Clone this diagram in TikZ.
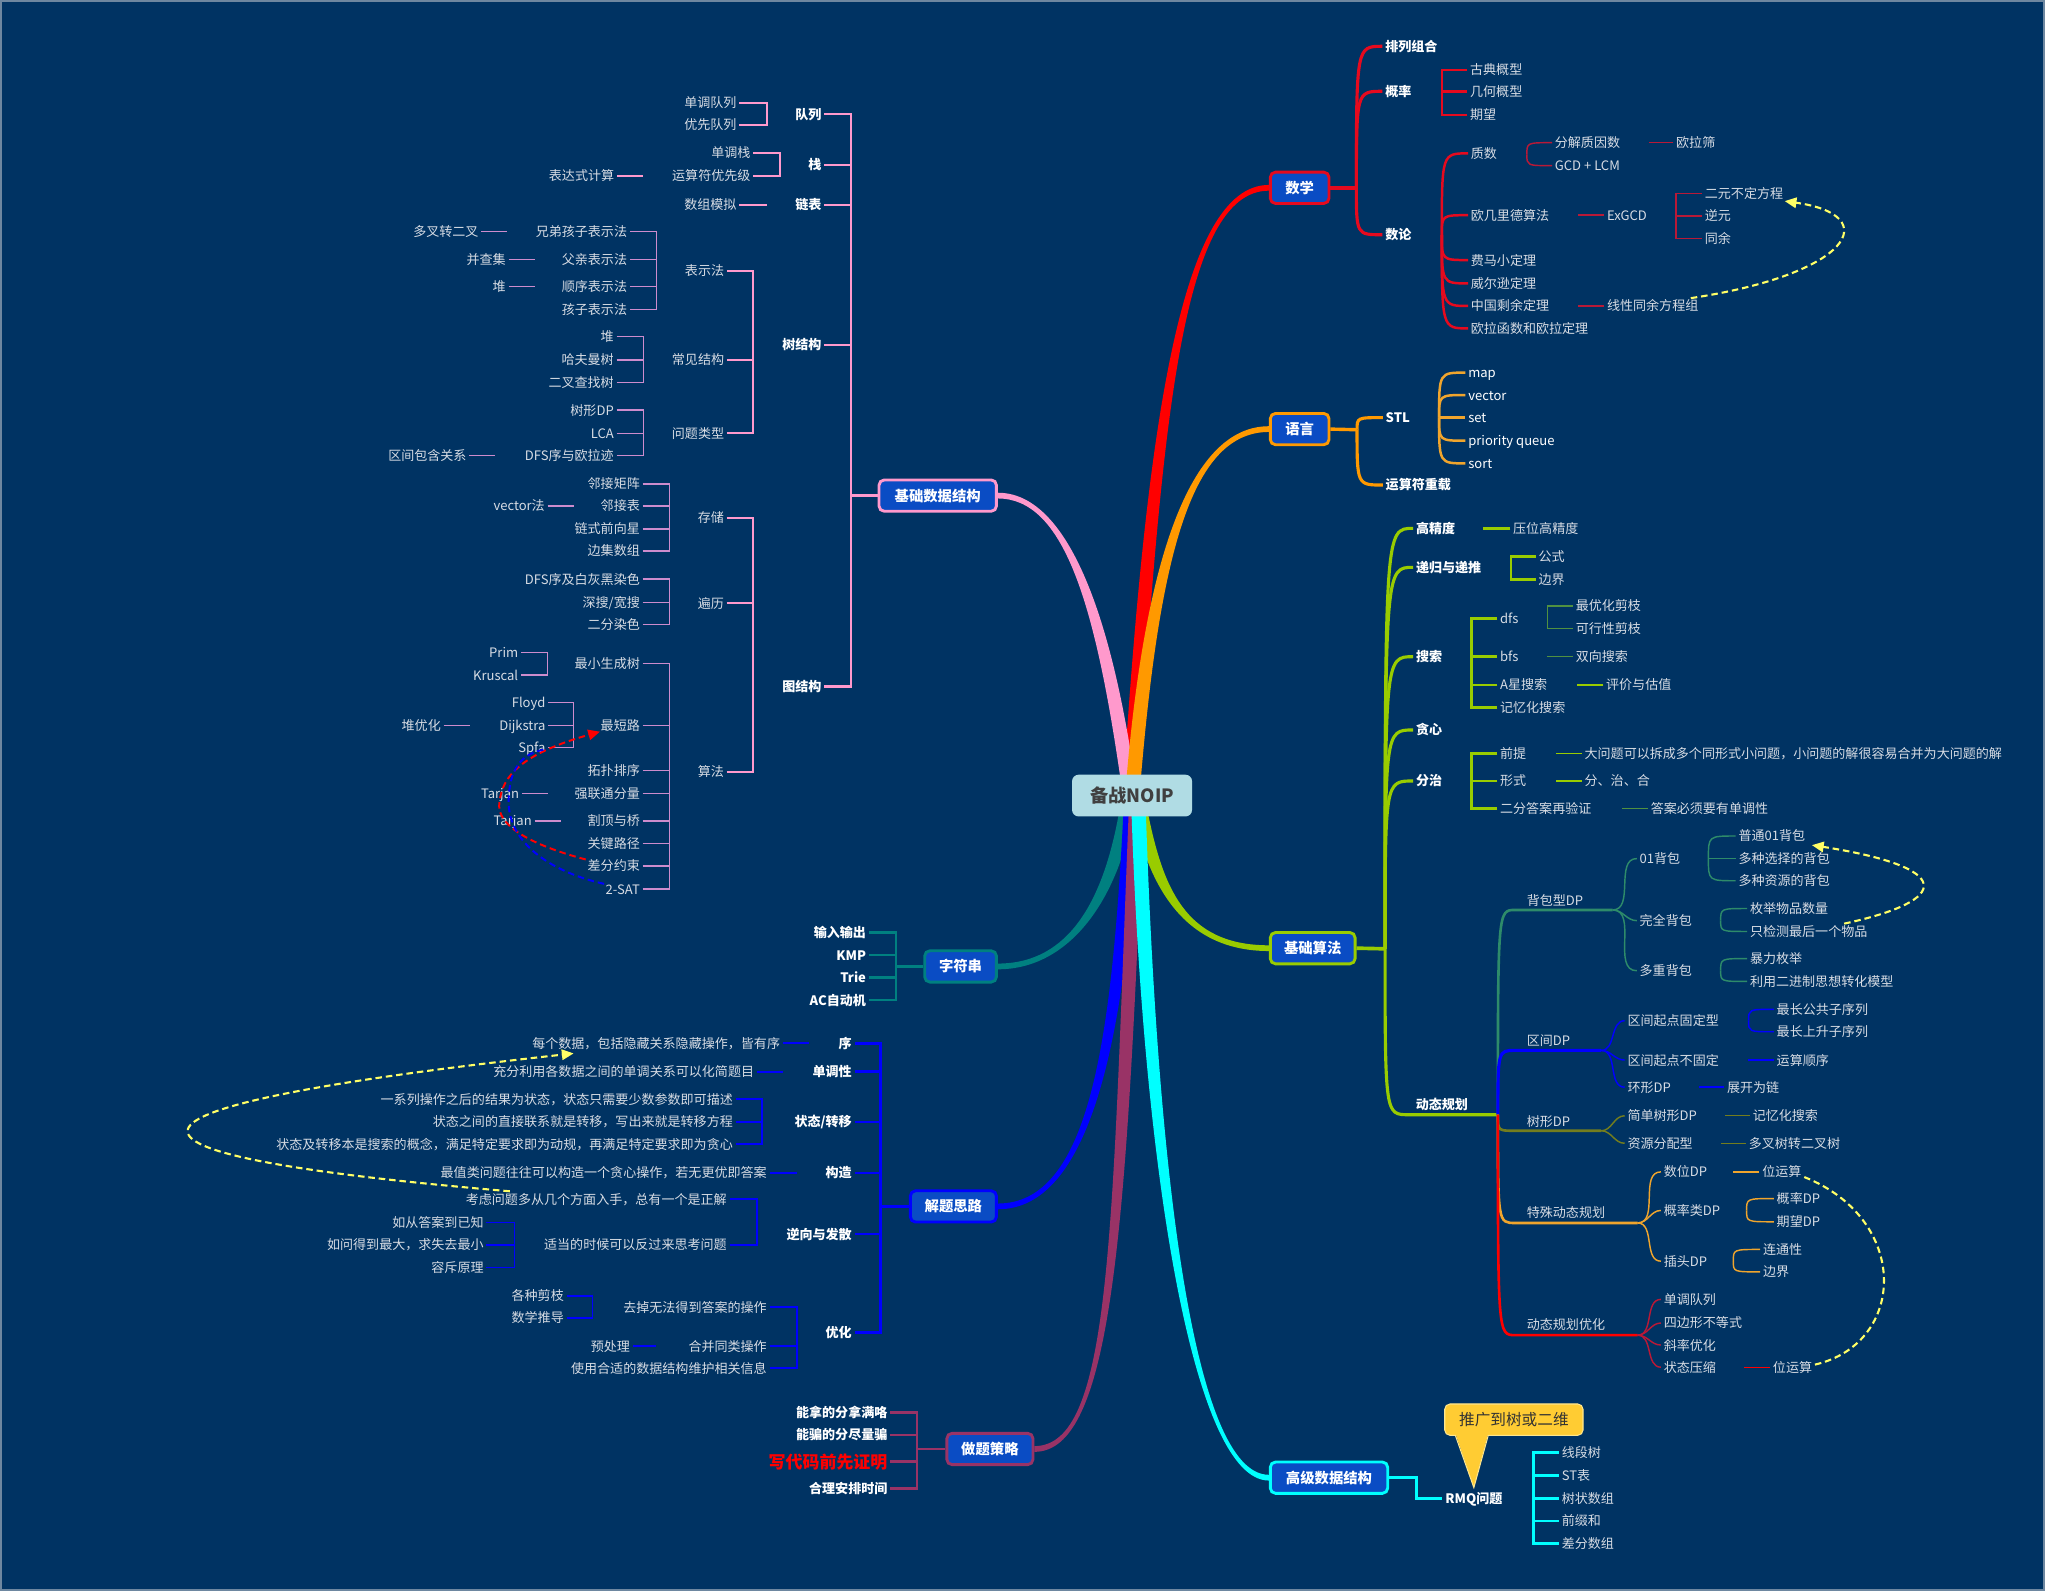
\documentclass[tikz,border=0pt]{standalone}
\usepackage{fontspec}
\setmainfont{Noto Sans CJK SC}
\usetikzlibrary{arrows.meta,calc}
\definecolor{bgc}{RGB}{0,51,99}
\definecolor{boxc}{RGB}{10,76,196}
\definecolor{leafc}{RGB}{215,220,228}
\definecolor{cred}{RGB}{255,0,0}
\definecolor{cred2}{RGB}{230,10,30}
\definecolor{cred3}{RGB}{185,25,55}
\definecolor{corg}{RGB}{255,153,0}
\definecolor{corg2}{RGB}{240,165,45}
\definecolor{cpink}{RGB}{255,153,204}
\definecolor{cpink2}{RGB}{205,140,205}
\definecolor{cgrn}{RGB}{153,204,0}
\definecolor{cgrn2}{RGB}{80,145,65}
\definecolor{cteal}{RGB}{0,128,128}
\definecolor{cblue}{RGB}{0,0,255}
\definecolor{cmar}{RGB}{153,51,102}
\definecolor{ccyan}{RGB}{0,255,255}
\definecolor{cdpg}{RGB}{46,139,106}
\definecolor{colive}{RGB}{115,125,30}
\definecolor{cyel}{RGB}{255,255,102}
\definecolor{ccall}{RGB}{255,204,51}
\definecolor{ccallb}{RGB}{255,230,140}
\definecolor{centc}{RGB}{176,220,228}
\definecolor{framec}{RGB}{110,135,160}
\newcommand\fsz[1]{\fontsize{#1}{#1}\selectfont}
\newcommand\mmLB[4]{\coordinate (BX) at (#2,0);\foreach \ch in {#4}{\draw[#1] ([xshift=2pt]\ch.east) -- (\ch.east -| BX) -- (#3.west -| BX);}}
\newcommand\mmRB[4]{\coordinate (BX) at (#2,0);\foreach \ch in {#4}{\draw[#1] ([xshift=-2pt]\ch.west) -- (\ch.west -| BX) -- (#3.east -| BX);}}
\newcommand\mmFR[3]{\foreach \ch in {#3}{\draw[#1] (#2) .. controls (#2 |- \ch.west) .. ([xshift=-2pt]\ch.west);}}
\newcommand\mmSR[3]{\foreach \ch in {#3}{\draw[#1] (#2) to[out=0,in=180] ([xshift=-2pt]\ch.west);}}
\newcommand\mmLL[3]{\draw[#1] ([xshift=2pt]#2.east) -- ++(#3,0);}
\newcommand\mmRL[3]{\draw[#1] ([xshift=-2pt]#2.west) -- ++(-#3,0);}
\pgfdeclarelayer{back}
\pgfdeclarelayer{mid}
\pgfsetlayers{back,mid,main}
\tikzset{
 lf/.style={inner sep=0pt, text=leafc, font=\fsz{10}, text height=8.8pt, text depth=1.2pt},
 bd/.style={inner sep=0pt, text=white, font=\fsz{10}\bfseries, text height=8.8pt, text depth=1.2pt},
 lfr/.style={lf,anchor=west}, lfl/.style={lf,anchor=east},
 bdr/.style={bd,anchor=west}, bdl/.style={bd,anchor=east},
 topbox/.style={rounded corners=4pt, fill=boxc, line width=2.2pt, text=white, font=\fsz{11}\bfseries, minimum height=24pt, inner sep=0pt},
 ln2/.style={line width=1.9pt}, ln3/.style={line width=1.5pt}, ln4/.style={line width=1.1pt},
 yarc/.style={cyel, line width=1.6pt, dash pattern=on 5pt off 3pt},
 tipa/.style={-{Triangle[length=9pt,width=8pt]}},
}
\begin{document}
\begin{tikzpicture}[x=1pt,y=-1pt]
\useasboundingbox (0,0) rectangle (1568,1220);
\begin{pgfonlayer}{back}
\fill[bgc] (0,0) rectangle (1568,1220);
\draw[framec,line width=1.5pt] (0.75,0.75) rectangle (1567.25,1219.25);
\end{pgfonlayer}

% ---------- root and main boxes ----------
\node[fill=centc, rounded corners=5pt, minimum width=92pt, minimum height=32pt, inner sep=0pt, text=black!75, font=\fsz{14}\bfseries] (root) at (868,610) {备战NOIP};
\coordinate (htop) at ([yshift=-6pt]root.north);
\coordinate (hbot) at ([yshift=6pt]root.south);
\node[topbox, draw=cred2, minimum width=45pt] (math) at (996.5,144) {数学};
\node[topbox, draw=corg, minimum width=45pt] (lang) at (996.5,329) {语言};
\node[topbox, draw=cpink, minimum width=90pt] (ds) at (719,380) {基础数据结构};
\node[topbox, draw=cgrn, minimum width=65pt] (alg) at (1006.5,727) {基础算法};
\node[topbox, draw=cteal, minimum width=55pt] (str) at (736.5,741) {字符串};
\node[topbox, draw=cblue, minimum width=66pt] (think) at (731,925) {解题思路};
\node[topbox, draw=cmar, minimum width=66pt] (strat) at (759,1111) {做题策略};
\node[topbox, draw=ccyan, minimum width=90pt] (adv) at (1019,1133) {高级数据结构};

\begin{pgfonlayer}{mid}
\fill[cred] ([xshift=-6.5pt]htop) .. controls (879,330) and (905,141.8) .. ([yshift=2.2pt]math.west) -- ([yshift=-2.2pt]math.west) .. controls (905,146.2) and (891,330) .. ([xshift=4.5pt]htop) -- cycle;
\fill[cpink] ([xshift=-8.5pt]htop) .. controls (839.5,460) and (815,382.2) .. ([yshift=-2.2pt]ds.east) -- ([yshift=2.2pt]ds.east) .. controls (815,377.8) and (850.5,460) .. ([xshift=2.5pt]htop) -- cycle;
\fill[corg] ([xshift=-4.5pt]htop) .. controls (878.5,420) and (915,326.8) .. ([yshift=2.2pt]lang.west) -- ([yshift=-2.2pt]lang.west) .. controls (915,331.2) and (889.5,420) .. ([xshift=6.5pt]htop) -- cycle;
\fill[cgrn] ([xshift=11.5pt]hbot) .. controls (891.5,680) and (908,724.8) .. ([yshift=2.2pt]alg.west) -- ([yshift=-2.2pt]alg.west) .. controls (908,729.2) and (880.5,680) .. ([xshift=0.5pt]hbot) -- cycle;
\fill[cteal] ([xshift=-9.5pt]hbot) .. controls (846.5,690) and (820,738.8) .. ([yshift=2.2pt]str.east) -- ([yshift=-2.2pt]str.east) .. controls (820,743.2) and (857.5,690) .. ([xshift=1.5pt]hbot) -- cycle;
\fill[cblue] ([xshift=-6.5pt]hbot) .. controls (852.5,800) and (835,922.8) .. ([yshift=2.2pt]think.east) -- ([yshift=-2.2pt]think.east) .. controls (835,927.2) and (863.5,800) .. ([xshift=4.5pt]hbot) -- cycle;
\fill[cmar] ([xshift=-2.5pt]hbot) .. controls (852.5,950) and (852,1108.8) .. ([yshift=2.2pt]strat.east) -- ([yshift=-2.2pt]strat.east) .. controls (852,1113.2) and (863.5,950) .. ([xshift=8.5pt]hbot) -- cycle;
\fill[ccyan] ([xshift=10.5pt]hbot) .. controls (887.5,900) and (915,1130.8) .. ([yshift=2.2pt]adv.west) -- ([yshift=-2.2pt]adv.west) .. controls (915,1135.2) and (876.5,900) .. ([xshift=-0.5pt]hbot) -- cycle;
\end{pgfonlayer}

% ---------- 数学 ----------
\coordinate (hm) at (1040,144);
\node[bdr] (pl) at (1062,35.5) {排列组合};
\node[bdr] (gl) at (1062,70) {概率};
\node[bdr] (sl) at (1062,180) {数论};
\draw[cred2,line width=2.6pt] (math.east) -- (hm);
\mmFR{cred2,line width=2.4pt}{hm}{pl,gl,sl}
\node[lfr] (gd) at (1127,53.5) {古典概型};
\node[lfr] (jh) at (1127,70.3) {几何概型};
\node[lfr] (qw) at (1127,88) {期望};
\mmRB{cred2,ln2}{1105.5}{gl}{gd,jh,qw}
\coordinate (hs) at (1105.5,180.2);
\node[lfr] (zs) at (1127.6,117.6) {质数};
\node[lfr] (oj) at (1127.6,165) {欧几里德算法};
\node[lfr] (fm) at (1127.6,199.4) {费马小定理};
\node[lfr] (we) at (1127.6,217.3) {威尔逊定理};
\node[lfr] (zg) at (1127.6,234.6) {中国剩余定理};
\node[lfr] (ol) at (1127.6,251.8) {欧拉函数和欧拉定理};
\mmFR{cred2,ln2}{hs}{zs,oj,fm,we,zg,ol}
\coordinate (hz) at (1170.7,118.5);
\node[lfr] (fj) at (1192,109.4) {分解质因数};
\node[lfr] (gcd) at (1192,127) {GCD + LCM};
\mmFR{cred3,ln4}{hz}{fj,gcd}
\node[lfr] (olz) at (1285,109.4) {欧拉筛};
\mmRL{cred3,ln4}{olz}{19}
\node[lfr] (exg) at (1232,165) {ExGCD};
\mmRL{cred3,ln4}{exg}{20}
\node[lfr] (ey) at (1307,148.2) {二元不定方程};
\node[lfr] (ny) at (1307,165.6) {逆元};
\node[lfr] (ty) at (1307,182.7) {同余};
\mmRB{cred3,ln4}{1285}{exg}{ey,ny,ty}
\node[lfr] (xx) at (1232,234.6) {线性同余方程组};
\mmRL{cred3,ln4}{xx}{20}
\draw[yarc,tipa] ([xshift=-6pt,yshift=6pt]xx.east) .. controls (1420,210) and (1445,165) .. ([xshift=1pt,yshift=-6pt]ey.east);

% ---------- 语言 ----------
\coordinate (hl) at (1040.5,329.5);
\node[bdr] (stl) at (1062.3,320.2) {STL};
\node[bdr] (ysf) at (1062.3,371.9) {运算符重载};
\draw[corg,line width=2.6pt] (lang.east) -- (hl);
\mmFR{corg,line width=2.4pt}{hl}{stl,ysf}
\coordinate (hst) at (1103.4,320.2);
\node[lfr,text=white] (map) at (1125.6,285.7) {map};
\node[lfr,text=white] (vecs) at (1125.6,302.9) {vector};
\node[lfr,text=white] (set) at (1125.6,320.2) {set};
\node[lfr,text=white] (pq) at (1125.6,337.9) {priority queue};
\node[lfr,text=white] (sort) at (1125.6,355.3) {sort};
\mmFR{corg2,ln2}{hst}{map,vecs,set,pq,sort}

% ---------- 基础算法 ----------
\coordinate (ha) at (1062,727.5);
\draw[cgrn,line width=2.8pt] (alg.east) -- (ha);
\node[bdr] (gjd) at (1085.5,405.1) {高精度};
\node[bdr] (dg) at (1085.5,435) {递归与递推};
\node[bdr] (ss) at (1085.5,503.5) {搜索};
\node[bdr] (tx) at (1085.5,559.7) {贪心};
\node[bdr] (fz) at (1085.5,598.8) {分治};
\mmFR{cgrn,line width=2.4pt}{ha}{gjd,dg,ss,tx,fz}
\node[bdr] (dp) at (1085.4,847) {动态规划};
\coordinate (dpL) at (1080,854.7);
\coordinate (hdp) at (1148.5,854.7);
\draw[cgrn,line width=2.4pt] (ha) .. controls (ha |- dpL) .. (dpL) -- (hdp);
\node[lfr] (ywg) at (1160,405.1) {压位高精度};
\mmRL{cgrn,ln2}{ywg}{21}
\node[lfr] (gs) at (1179.5,426.8) {公式};
\node[lfr] (bj) at (1179.5,444.2) {边界};
\mmRB{cgrn,ln2}{1158.6}{dg}{gs,bj}
\node[lfr] (dfs) at (1150,474.1) {dfs};
\node[lfr] (bfs) at (1150,503.5) {bfs};
\node[lfr] (axs) at (1150,525.2) {A星搜索};
\node[lfr] (jyh) at (1150,542.4) {记忆化搜索};
\mmRB{cgrn,ln2}{1128.2}{ss}{dfs,bfs,axs,jyh}
\node[lfr] (yh) at (1208,464.6) {最优化剪枝};
\node[lfr] (kx) at (1208,482) {可行性剪枝};
\mmRB{cgrn2,ln4}{1186.6}{dfs}{yh,kx}
\node[lfr] (sxss) at (1208,503.5) {双向搜索};
\mmRL{cgrn2,ln4}{sxss}{20}
\node[lfr] (pj) at (1231.3,525.2) {评价与估值};
\mmRL{cgrn,ln4}{pj}{20}
\node[lfr] (qt) at (1150,577.6) {前提};
\node[lfr] (xs) at (1150,598.8) {形式};
\node[lfr] (ef) at (1150,619.8) {二分答案再验证};
\mmRB{cgrn,ln2}{1128.2}{fz}{qt,xs,ef}
\node[lfr] (dwt) at (1214.8,577.6) {大问题可以拆成多个同形式小问题，小问题的解很容易合并为大问题的解};
\mmRL{cgrn,ln4}{dwt}{20}
\node[lfr] (fzh) at (1214.8,598.8) {分、治、合};
\mmRL{cgrn,ln4}{fzh}{20}
\node[lfr] (dab) at (1265.5,619.8) {答案必须要有单调性};
\mmRL{cgrn2,ln4}{dab}{20}

% ---------- 动态规划 ----------
\coordinate (hbb) at (1236.5,697.7); \coordinate (bbL) at (1161.7,697.7);
\coordinate (hqj) at (1227.7,805.4); \coordinate (qjL) at (1161.7,805.4);
\coordinate (hsx) at (1227.7,867);   \coordinate (sxL) at (1161.7,867);
\coordinate (hts) at (1255.6,937.7); \coordinate (tsL) at (1161.7,937.7);
\coordinate (hdy) at (1255.6,1023.7); \coordinate (dyL) at (1161.7,1023.7);
\node[lfr] (bb) at (1170.5,690.3) {背包型DP};
\node[lfr] (qj) at (1170.5,797.7) {区间DP};
\node[lfr] (sxdp2) at (1170.5,859.6) {树形DP};
\node[lfr] (ts) at (1170.5,929.5) {特殊动态规划};
\node[lfr] (dy) at (1170.5,1015.5) {动态规划优化};
\draw[cdpg,line width=2pt] (hdp) .. controls (hdp |- bbL) .. (bbL) -- (hbb);
\draw[cblue,line width=2.4pt] (hdp) .. controls (hdp |- qjL) .. (qjL) -- (hqj);
\draw[colive,line width=2pt] (hdp) .. controls (hdp |- sxL) .. (sxL) -- (hsx);
\draw[corg2,line width=2pt] (hdp) .. controls (hdp |- tsL) .. (tsL) -- (hts);
\draw[cred,line width=2pt] (hdp) .. controls (hdp |- dyL) .. (dyL) -- (hdy);

\node[lfr] (b01) at (1257,658.3) {01背包};
\node[lfr] (wq) at (1257,705.9) {完全背包};
\node[lfr] (dc) at (1257,744.3) {多重背包};
\mmSR{cdpg,ln4}{hbb}{b01,wq,dc}
\coordinate (h01) at (1309.9,658.3);
\node[lfr] (ptb) at (1332.8,641) {普通01背包};
\node[lfr] (dzx) at (1332.8,658.3) {多种选择的背包};
\node[lfr] (dzy) at (1332.8,675.3) {多种资源的背包};
\mmFR{cdpg,ln4}{h01}{ptb,dzx,dzy}
\coordinate (hwq) at (1319.3,705.9);
\node[lfr] (mj) at (1341.6,696.6) {枚举物品数量};
\node[lfr] (zj) at (1341.6,714.2) {只检测最后一个物品};
\mmFR{cdpg,ln4}{hwq}{mj,zj}
\coordinate (hdc) at (1319.3,744.3);
\node[lfr] (bl) at (1341.6,735) {暴力枚举};
\node[lfr] (ly) at (1341.6,752.5) {利用二进制思想转化模型};
\mmFR{cdpg,ln4}{hdc}{bl,ly}
\draw[yarc,tipa] ([xshift=-18pt,yshift=6pt]zj.east) .. controls (1498,690) and (1498,665) .. ([xshift=5pt,yshift=-7pt]ptb.east);

\node[lfr] (qd) at (1247.7,782.6) {区间起点固定型};
\node[lfr] (qb) at (1247.7,812.8) {区间起点不固定};
\node[lfr] (hxdp) at (1247.7,833.6) {环形DP};
\mmSR{cblue,ln4}{hqj}{qd,qb,hxdp}
\coordinate (hqd) at (1340.7,782.6);
\node[lfr] (zc) at (1362.1,773.9) {最长公共子序列};
\node[lfr] (zs2) at (1362.1,791.1) {最长上升子序列};
\mmFR{cblue,ln4}{hqd}{zc,zs2}
\node[lfr] (yssx) at (1362.1,812.8) {运算顺序};
\mmRL{cblue,ln4}{yssx}{20}
\node[lfr] (zk) at (1324,833.6) {展开为链};
\mmRL{cblue,line width=1.6pt}{zk}{19}

\node[lfr] (jd) at (1247.7,855.5) {简单树形DP};
\node[lfr] (zyfp) at (1247.7,876.6) {资源分配型};
\mmSR{colive,ln4}{hsx}{jd,zyfp}
\node[lfr] (jy2) at (1343.7,855.5) {记忆化搜索};
\mmRL{colive,ln4}{jy2}{19}
\node[lfr] (dc2) at (1340.7,876.6) {多叉树转二叉树};
\mmRL{colive,ln4}{dc2}{19}

\node[lfr] (sw) at (1275.5,898.5) {数位DP};
\node[lfr] (glx) at (1275.5,928.1) {概率类DP};
\node[lfr] (ct) at (1275.5,967) {插头DP};
\mmSR{corg2,ln4}{hts}{sw,glx,ct}
\node[lfr] (wy) at (1351,898.5) {位运算};
\mmRL{corg2,ln4}{wy}{20}
\coordinate (hgl) at (1339.2,928.1);
\node[lfr] (gldp) at (1362.1,919) {概率DP};
\node[lfr] (qwdp) at (1362.1,936.8) {期望DP};
\mmFR{corg2,ln4}{hgl}{gldp,qwdp}
\coordinate (hct) at (1329,967);
\node[lfr] (lt) at (1351.6,958) {连通性};
\node[lfr] (bj2) at (1351.6,975.2) {边界};
\mmFR{corg2,ln4}{hct}{lt,bj2}

\node[lfr] (dd) at (1275.5,996.3) {单调队列};
\node[lfr] (sb) at (1275.5,1014.4) {四边形不等式};
\node[lfr] (xl) at (1275.5,1031.3) {斜率优化};
\node[lfr] (zt) at (1275.5,1048.3) {状态压缩};
\mmSR{cred3,ln4}{hdy}{dd,sb,xl,zt}
\node[lfr] (wy2) at (1359.2,1048.3) {位运算};
\mmRL{cred,ln4}{wy2}{20}
\draw[yarc] ([xshift=2pt,yshift=2pt]wy2.east) .. controls (1462,1030) and (1465,935) .. ([xshift=2pt,yshift=-4pt]wy.east);

% ---------- 高级数据结构 ----------
\node[bdr] (rmq) at (1108,1148.8) {RMQ问题};
\coordinate (ha2) at (1086,1133);
\draw[ccyan,line width=2.6pt] (adv.east) -- (ha2) |- ([xshift=-2pt]rmq.west);
\node[lfr] (xd) at (1197.3,1113.8) {线段树};
\node[lfr] (stb) at (1197.3,1131.5) {ST表};
\node[lfr] (szsz) at (1197.3,1148.8) {树状数组};
\node[lfr] (qzh) at (1197.3,1166.2) {前缀和};
\node[lfr] (cfsz) at (1197.3,1183.3) {差分数组};
\mmRB{ccyan,ln2}{1175.7}{rmq}{xd,stb,szsz,qzh,cfsz}
\node[fill=ccall, draw=ccallb, line width=0.8pt, rounded corners=4pt, minimum width=106pt, minimum height=24pt, inner sep=0pt, text=black!80, font=\fsz{12}] (cb) at (1160.75,1088.5) {推广到树或二维};
\fill[ccall] ([xshift=-44.75pt,yshift=1.5pt]cb.south) -- ([yshift=3pt]rmq.north) -- ([xshift=-19.75pt,yshift=1.5pt]cb.south) -- cycle;
\draw[ccallb,line width=0.8pt] ([xshift=-44.75pt]cb.south) -- ([yshift=3pt]rmq.north) -- ([xshift=-19.75pt]cb.south);

% ---------- 做题策略 ----------
\node[bdl] (nn) at (680.6,1083.2) {能拿的分拿满咯};
\node[bdl] (np) at (680.6,1100.3) {能骗的分尽量骗};
\node[bdl,text=red,font=\fsz{13}\bfseries,text height=11.4pt,text depth=1.6pt] (xdm) at (680.6,1120.7) {写代码前先证明};
\node[bdl] (hlap) at (680.6,1141.2) {合理安排时间};
\mmLB{cmar,ln2}{703.1}{strat}{nn,np,xdm,hlap}
\draw[cmar,ln2] (strat.west) -- (strat.west -| BX);

% ---------- 字符串 ----------
\node[bdl] (srsc) at (664.2,714.9) {输入输出};
\node[bdl] (kmp) at (664.2,732.3) {KMP};
\node[bdl] (trie) at (664.2,749.4) {Trie};
\node[bdl] (ac) at (664.2,766.8) {AC自动机};
\mmLB{cteal,ln2}{686.9}{str}{srsc,kmp,trie,ac}
\draw[cteal,ln2] (str.west) -- (str.west -| BX);

% ---------- 解题思路 ----------
\node[bdl] (xu) at (653.3,800) {序};
\node[bdl] (ddx) at (653.3,821.7) {单调性};
\node[bdl] (ztzy) at (653.3,860.1) {状态/转移};
\node[bdl] (gouz) at (653.3,899.2) {构造};
\node[bdl] (nxfs) at (653.3,946.2) {逆向与发散};
\node[bdl] (youh) at (653.3,1021.6) {优化};
\mmLB{cblue,ln2}{675}{think}{xu,ddx,ztzy,gouz,nxfs,youh}
\draw[cblue,ln2] (think.west) -- (think.west -| BX);
\node[lfl] (mg) at (598.3,800) {每个数据，包括隐藏关系隐藏操作，皆有序};
\mmLL{cblue,ln3}{mg}{20}
\node[lfl] (cfly) at (578.4,821.7) {充分利用各数据之间的单调关系可以化简题目};
\mmLL{cblue,ln3}{cfly}{20}
\node[lfl] (s1) at (562.1,843) {一系列操作之后的结果为状态，状态只需要少数参数即可描述};
\node[lfl] (s2) at (562.1,860.1) {状态之间的直接联系就是转移，写出来就是转移方程};
\node[lfl] (s3) at (562.1,877.5) {状态及转移本是搜索的概念，满足特定要求即为动规，再满足特定要求即为贪心};
\mmLB{cblue,ln3}{584.5}{ztzy}{s1,s2,s3}
\node[lfl] (zzl) at (588.1,899.2) {最值类问题往往可以构造一个贪心操作，若无更优即答案};
\mmLL{cblue,ln3}{zzl}{21}
\node[lfl] (kl) at (557.4,919.4) {考虑问题多从几个方面入手，总有一个是正解};
\node[lfl] (fg) at (557.4,954.6) {适当的时候可以反过来思考问题};
\mmLB{cblue,ln3}{580.2}{nxfs}{kl,fg}
\node[lfl] (rc) at (371,937.5) {如从答案到已知};
\node[lfl] (rw) at (371,954.6) {如问得到最大，求失去最小};
\node[lfl] (rx) at (371,972) {容斥原理};
\mmLB{cblue,ln4}{394.5}{fg}{rc,rw,rx}
\node[lfl] (qdw) at (588.1,1002.4) {去掉无法得到答案的操作};
\node[lfl] (hbl) at (588.1,1032.1) {合并同类操作};
\node[lfl] (syh) at (588.1,1049.2) {使用合适的数据结构维护相关信息};
\mmLB{cblue,ln3}{611}{youh}{qdw,hbl,syh}
\node[lfl] (gzjz) at (432.5,993.7) {各种剪枝};
\node[lfl] (sxtd) at (432.5,1010.4) {数学推导};
\mmLB{cblue,ln4}{454.2}{qdw}{gzjz,sxtd}
\node[lfl] (ycl) at (483.2,1032.1) {预处理};
\mmLL{cblue,ln4}{ycl}{18}
\draw[yarc,tipa] ([xshift=-166.5pt,yshift=6pt]kl.east) .. controls (55,885) and (55,850) .. ([xshift=-158.5pt,yshift=-7.7pt]mg.east);

% ---------- 基础数据结构 ----------
\node[bdl] (dl) at (630,87.6) {队列};
\node[bdl] (zhan) at (630,126.5) {栈};
\node[bdl] (lb) at (630,157.1) {链表};
\node[bdl] (sjg) at (630,264.5) {树结构};
\node[bdl] (tjg) at (630,526.5) {图结构};
\mmLB{cpink,line width=1.8pt}{652.6}{ds}{dl,zhan,lb,sjg,tjg}
\draw[cpink,line width=1.8pt] (ds.west) -- (ds.west -| BX);
\node[lfl] (ddl) at (564.9,78.7) {单调队列};
\node[lfl] (yxdl) at (564.9,95.8) {优先队列};
\mmLB{cpink,ln3}{587.9}{dl}{ddl,yxdl}
\node[lfl] (ddz) at (575.6,117) {单调栈};
\node[lfl] (ysfy) at (575.6,134.9) {运算符优先级};
\mmLB{cpink,ln3}{598.1}{zhan}{ddz,ysfy}
\node[lfl] (bdsj) at (471.1,134.9) {表达式计算};
\mmLL{cpink,ln4}{bdsj}{20}
\node[lfl] (szmn) at (564.9,157.1) {数组模拟};
\mmLL{cpink,ln3}{szmn}{21}
\node[lfl] (bsf) at (555.4,207.5) {表示法};
\node[lfl] (cjjg) at (555.4,276) {常见结构};
\node[lfl] (wtlx) at (555.4,332.2) {问题类型};
\mmLB{cpink,ln3}{577.7}{sjg}{bsf,cjjg,wtlx}
\node[lfl] (xdhz) at (481,177.6) {兄弟孩子表示法};
\node[lfl] (fqbs) at (481,198.8) {父亲表示法};
\node[lfl] (sxbs) at (481,219.8) {顺序表示法};
\node[lfl] (hzbs) at (481,237.1) {孩子表示法};
\mmLB{cpink2,ln4}{503.5}{bsf}{xdhz,fqbs,sxbs,hzbs}
\node[lfl] (dcz) at (367.1,177.6) {多叉转二叉};
\mmLL{cpink2,ln4}{dcz}{20}
\node[lfl] (bcj) at (388,198.8) {并查集};
\mmLL{cpink2,ln4}{bcj}{20}
\node[lfl] (dui) at (388,219.8) {堆};
\mmLL{cpink2,ln4}{dui}{20}
\node[lfl] (dui2) at (470.8,258.1) {堆};
\node[lfl] (hfm) at (470.8,276) {哈夫曼树};
\node[lfl] (ecz) at (470.8,293.4) {二叉查找树};
\mmLB{cpink2,ln4}{493.3}{cjjg}{dui2,hfm,ecz}
\node[lfl] (sxdp) at (470.8,314.4) {树形DP};
\node[lfl] (lca) at (470.8,332.2) {LCA};
\node[lfl] (dfsx) at (470.8,349.4) {DFS序与欧拉迹};
\mmLB{cpink2,ln4}{493.3}{wtlx}{sxdp,lca,dfsx}
\node[lfl] (qjbh) at (357.9,349.4) {区间包含关系};
\mmLL{cpink2,ln4}{qjbh}{20}

\node[lfl] (cc) at (555.2,396.9) {存储};
\node[lfl] (blx) at (555.2,462.6) {遍历};
\node[lfl] (sfx) at (555.2,591.7) {算法};
\mmLB{cpink,ln3}{577.7}{tjg}{cc,blx,sfx}
\node[lfl] (ljjz) at (490.8,371.1) {邻接矩阵};
\node[lfl] (ljb) at (490.8,388) {邻接表};
\node[lfl] (lsqx) at (490.8,405.6) {链式前向星};
\node[lfl] (bjsz) at (490.8,422.5) {边集数组};
\mmLB{cpink2,ln4}{513.2}{cc}{ljjz,ljb,lsqx,bjsz}
\node[lfl] (vecf) at (417.9,388) {vector法};
\mmLL{cpink2,ln4}{vecf}{20}
\node[lfl] (dfsr) at (490.8,444) {DFS序及白灰黑染色};
\node[lfl] (ssks) at (490.8,461.8) {深搜/宽搜};
\node[lfl] (efrs) at (490.8,478.7) {二分染色};
\mmLB{cpink2,ln4}{513.2}{blx}{dfsr,ssks,efrs}
\node[lfl] (zxsc) at (490.8,508.6) {最小生成树};
\node[lfl] (zdl) at (490.8,556.4) {最短路};
\node[lfl] (tppx) at (490.8,590.9) {拓扑排序};
\node[lfl] (qlt) at (490.8,608.3) {强联通分量};
\node[lfl] (gdq) at (490.8,629.5) {割顶与桥};
\node[lfl] (gjlj) at (490.8,646.6) {关键路径};
\node[lfl] (cfys) at (490.8,664) {差分约束};
\node[lfl] (sat) at (490.8,681.7) {2-SAT};
\mmLB{cpink2,ln4}{513.2}{sfx}{zxsc,zdl,tppx,qlt,gdq,gjlj,cfys,sat}
\node[lfl] (prim) at (397.5,500.4) {Prim};
\node[lfl] (krus) at (397.5,517.6) {Kruscal};
\mmLB{cpink2,ln4}{419.7}{zxsc}{prim,krus}
\node[lfl] (floyd) at (418.4,538.8) {Floyd};
\node[lfl] (dij) at (418.4,556.4) {Dijkstra};
\node[lfl] (spfa) at (418.4,573.3) {Spfa};
\mmLB{cpink2,ln4}{439.6}{zdl}{floyd,dij,spfa}
\node[lfl] (dyh) at (338.2,556.4) {堆优化};
\mmLL{cpink2,ln4}{dyh}{20}
\node[lfl] (tar1) at (398.2,608.3) {Tarjan};
\mmLL{cpink2,ln4}{tar1}{20}
\node[lfl] (tar2) at (407.9,629.5) {Tarjan};
\mmLL{cpink2,ln4}{tar2}{20}
\draw[red,line width=1.5pt,dash pattern=on 5pt off 3pt,tipa] ([xshift=-41.7pt,yshift=5pt]cfys.east) .. controls (400,646) and (380,630) .. (383,615) .. controls (385,595) and (400,578) .. ([xshift=-30.8pt,yshift=-4.6pt]zdl.east);
\draw[cblue,line width=1.5pt,dash pattern=on 5pt off 3pt] ([xshift=-27.6pt,yshift=4pt]sat.east) .. controls (420,668) and (390,645) .. (390,615) .. controls (390,590) and (400,577) .. ([yshift=-1.3pt]spfa.east);
\end{tikzpicture}
\end{document}
